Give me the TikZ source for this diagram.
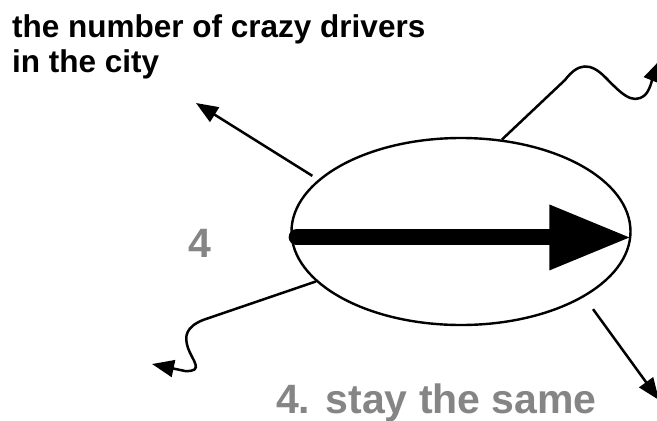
\documentclass[tikz,border=0pt]{standalone}
\usepackage{fontspec}
\setmainfont{Liberation Sans}
\usepackage{tikz}
\usetikzlibrary{shapes.geometric, arrows.meta}

\begin{document}
\begin{tikzpicture}[
    x=1pt, y=-1pt,
    blob/.style={draw, ellipse, line width=2.4pt, minimum width=339pt,
                 minimum height=187pt, inner sep=0pt},
    wire/.style={-{Triangle[length=22pt,width=17pt]}, line width=2.5pt},
    fat/.style={-{Triangle[length=82pt,width=61pt]}, line width=16pt, line cap=round},
    heading/.style={font=\bfseries\fontsize{31.5}{35}\selectfont, align=left, inner sep=0pt},
    num/.style={font=\bfseries\fontsize{41}{44}\selectfont, text=black!48, inner sep=0pt},
]
\useasboundingbox (0,0) rectangle (657,421);
% the ellipse with its big arrow inside
\node[blob] (ell) at (461,231.5) {};
\draw[fat, shorten <=6pt] (ell.182) -- (ell.358);

% labels
\node[heading, anchor=base west] (title) at (12,72) {the number of crazy drivers\\in the city};
\node[num, anchor=base] (four) at (200,257) {4};
\node[num, anchor=base west] (same) at (276,413) {4. stay the same};

% straight arrows leaving the ellipse
\draw[wire, shorten <=7pt] (ell.160.5) -- (196,103);
\draw[wire, shorten <=15pt] (ell.332) -- (659,400);
% wavy arrows
\draw[wire] (ell.66) -- (565,80) .. controls (578,63) and (590,62) .. (605,77)
    .. controls (620,92) and (632,106) .. (645,95) .. controls (650,90) and (652,80) .. (660,60);
\draw[wire] (ell.199) -- (203,320) .. controls (186,327) and (184,336) .. (188,348)
    .. controls (192,360) and (205,372) .. (185,371) -- (152,364);
\end{tikzpicture}
\end{document}
